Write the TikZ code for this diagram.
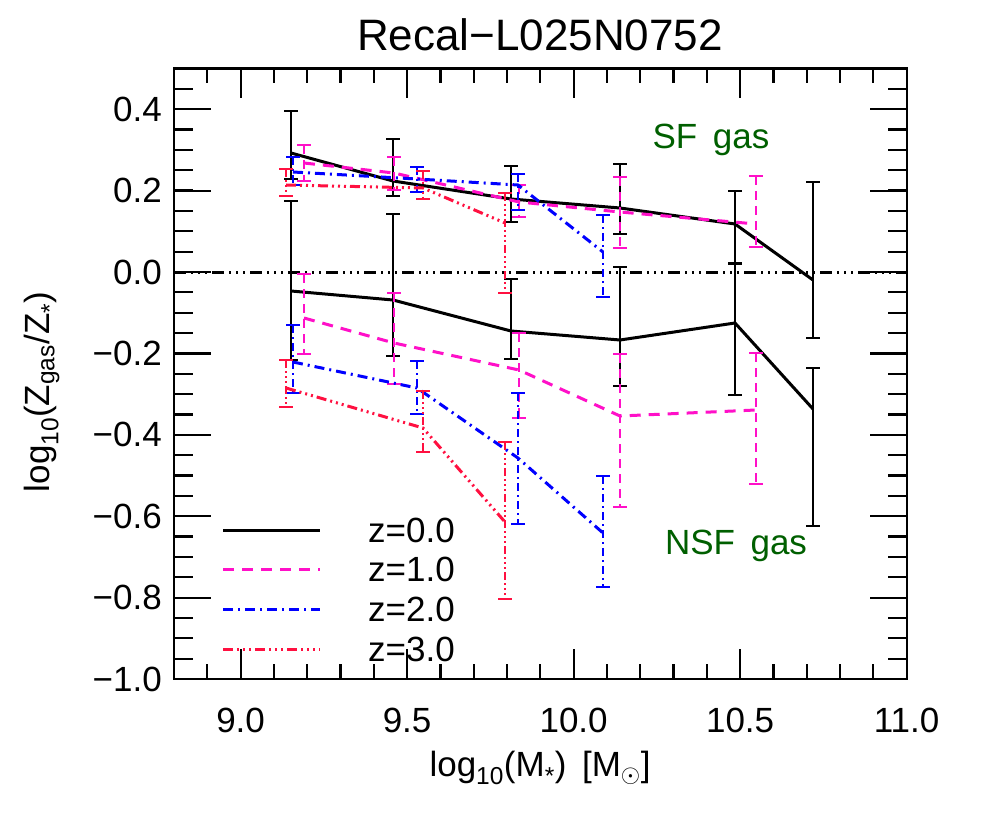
\documentclass[tikz,border=0pt]{standalone}
\usepackage{fontspec}
\setmainfont{Liberation Sans}
\begin{document}
\begin{tikzpicture}[x=1pt,y=-1pt,
  k/.style={black,line width=3pt},
  kb/.style={black,line width=2pt},
  m/.style={color={rgb,255:red,255;green,16;blue,200},line width=3pt,dash pattern=on 11pt off 8pt},
  mb/.style={color={rgb,255:red,255;green,16;blue,200},line width=2pt,dash pattern=on 9pt off 6pt},
  b/.style={color={rgb,255:red,0;green,0;blue,255},line width=3pt,dash pattern=on 10pt off 5pt on 2pt off 5pt},
  bb/.style={color={rgb,255:red,0;green,0;blue,255},line width=2pt,dash pattern=on 8pt off 4pt on 2pt off 4pt},
  r/.style={color={rgb,255:red,255;green,16;blue,64},line width=3pt,dash pattern=on 10pt off 4pt on 2pt off 4pt on 2pt off 4pt on 2pt off 4pt},
  rb/.style={color={rgb,255:red,255;green,16;blue,64},line width=2pt,dash pattern=on 8pt off 3pt on 2pt off 3pt on 2pt off 3pt on 2pt off 3pt},
  lbl/.style={font=\fontsize{35}{38}\selectfont,inner sep=0pt},
  gas/.style={font=\fontsize{35}{38}\selectfont,text={rgb,255:red,0;green,95;blue,0},inner sep=0pt}]
\useasboundingbox (0,0) rectangle (992,818);
\newcommand\ebar[4]{\draw[#4] (#1,#2)--(#1,#3);\draw[#4,solid] (#1-7,#2)--(#1+7,#2) (#1-7,#3)--(#1+7,#3);}
% frame and ticks
\draw[line width=2.2pt] (174,68.5) rectangle (907,679);
\foreach \v in {9.0,9.5,10.0,10.5}{\pgfmathsetmacro\xx{174+(\v-8.8)*333}
  \draw[line width=2.2pt] (\xx,679)--(\xx,649) (\xx,68.5)--(\xx,98.5);}
\foreach \v in {8.9,9.1,9.2,9.3,9.4,9.6,9.7,9.8,9.9,10.1,10.2,10.3,10.4,10.6,10.7,10.8,10.9}{\pgfmathsetmacro\xx{174+(\v-8.8)*333}
  \draw[line width=2.2pt] (\xx,679)--(\xx,664) (\xx,68.5)--(\xx,83.5);}
\foreach \v in {-0.8,-0.6,-0.4,-0.2,0.0,0.2,0.4}{\pgfmathsetmacro\yy{272-407*\v}
  \draw[line width=2.2pt] (174,\yy)--(211,\yy) (907,\yy)--(870,\yy);}
\foreach \i in {1,...,29}{\pgfmathsetmacro\yy{679-20.35*\i}
  \draw[line width=2.2pt] (174,\yy)--(193,\yy) (907,\yy)--(888,\yy);}
% tick labels
\foreach \v/\t in {9.0/9.0,9.5/9.5,10.0/10.0,10.5/10.5,11.0/11.0}{\pgfmathsetmacro\xx{174+(\v-8.8)*333}
  \node[lbl] (xl\t) at (\xx,720) {\t};}
\foreach \v/\t in {0.4/0.4,0.2/0.2,0.0/0.0,-0.2/−0.2,-0.4/−0.4,-0.6/−0.6,-0.8/−0.8,-1.0/−1.0}{\pgfmathsetmacro\yy{272-407*\v}
  \node[lbl,anchor=east] (yl\v) at (162,\yy) {\t};}
\node[font=\fontsize{44}{46}\selectfont,inner sep=0pt] (title) at (540,35) {Recal−L025N0752};
\node[lbl] (xlab) at (540,768) {log\textsubscript{10}(M\textsubscript{*}) \,[M\textsubscript{$\odot$}]};
\node[lbl,rotate=90] (ylab) at (42,392) {log\textsubscript{10}(Z\textsubscript{gas}/Z\textsubscript{*})};
% zero line
\draw[black,line width=3pt,dash pattern=on 12pt off 5pt on 2pt off 5pt on 2pt off 5pt on 2pt off 5pt] (174,272)--(907,272);
% black z=0
\draw[k] (291,153)--(393,181)--(511,199)--(620,208)--(735,224)--(813,280);
\draw[k] (291,291)--(393,300)--(511,331)--(620,340)--(735,323)--(813,409);
\foreach \x/\a/\bb in {291/111/179,393/139/196,511/166/222,620/164/234,735/191/264,813/182/338,
  291/201/360,393/214/356,511/279/359,620/267/386,735/263/395,813/368/526}{\ebar{\x}{\a}{\bb}{kb}}
% magenta z=1
\draw[m] (304,163)--(394,173)--(519,202)--(620,212)--(756,224);
\draw[m] (304,318)--(394,343)--(519,370)--(620,416)--(756,410);
\foreach \x/\a/\bb in {304/145/181,394/157/190,519/185/217,620/177/248,756/176/247,
  304/274/354,394/293/384,519/333/418,620/354/507,756/353/484}{\ebar{\x}{\a}{\bb}{mb}}
% blue z=2
\draw[b] (293,172)--(417,179)--(518,185)--(603,252);
\draw[b] (293,362)--(417,388)--(518,458)--(603,533);
\foreach \x/\a/\bb in {293/157/185,417/167/192,518/174/210,603/215/297,
  293/325/393,417/361/414,518/393/524,603/476/587}{\ebar{\x}{\a}{\bb}{bb}}
% red z=3
\draw[r] (286,185)--(423,188)--(505,223);
\draw[r] (286,388)--(423,428)--(505,522);
\foreach \x/\a/\bb in {286/169/196,423/171/199,505/193/293,
  286/360/407,423/391/452,505/442/599}{\ebar{\x}{\a}{\bb}{rb}}
% labels
\node[gas] (sf) at (711,140) {SF\, gas};
\node[gas] (nsf) at (736,546) {NSF\, gas};
% legend
\foreach \s/\yy/\t/\n in {k/530/0.0/a,m/569/1.0/b,b/609/2.0/c,r/649/3.0/d}{
  \coordinate (l\n) at (223,\yy); \coordinate (r\n) at (320,\yy);
  \draw[\s] (l\n)--(r\n);
  \node[lbl,anchor=west] (t\n) at (368,\yy) {z=\t};}
\end{tikzpicture}
\end{document}
